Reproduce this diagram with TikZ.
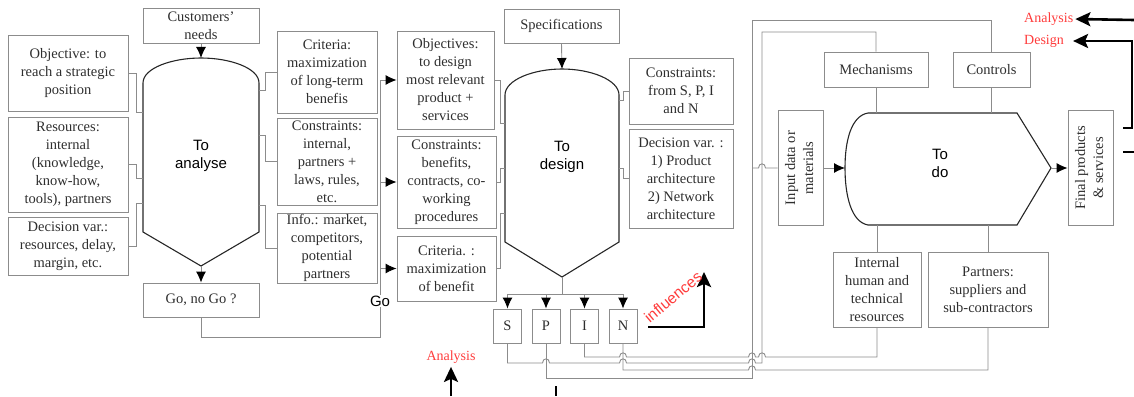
\documentclass[tikz,border=0pt]{standalone}
\usepackage{fontspec}
\setmainfont{Liberation Serif}
\setsansfont{Liberation Sans}
\usetikzlibrary{arrows.meta}

\definecolor{linegray}{HTML}{8C8C8C}
\definecolor{textgray}{HTML}{2E2E2E}
\definecolor{notered}{HTML}{FF3B3B}

\tikzstyle{box} = [draw=linegray, line width=0.9pt, text=textgray, align=center, inner sep=1pt, font=\fontsize{14.5}{18}\selectfont]
\tikzstyle{letter} = [box, minimum width=28, minimum height=34]
\tikzstyle{wire} = [draw=linegray, line width=0.9pt]
\tikzstyle{feed} = [wire, -{Latex[length=11pt, width=10pt, color=black]}]
\tikzstyle{process} = [draw=black!85, line width=1.1pt]
\tikzstyle{verb} = [font=\sffamily\fontsize{15}{18}\selectfont, align=center, text=black]
\tikzstyle{bigarrow} = [line width=2.6pt, -{Stealth[length=15pt, width=14pt, inset=3pt]}]
\tikzstyle{redword} = [text=notered, font=\fontsize{14}{16}\selectfont]
\tikzstyle{redsans} = [text=notered, font=\sffamily\fontsize{15.5}{18}\selectfont, inner sep=0pt]

\newcommand{\wirehop}[2]{-- (#1-3.5,#2) .. controls (#1-3.5,#2-5.5) and (#1+3.5,#2-5.5) .. (#1+3.5,#2)}

\begin{document}
\begin{tikzpicture}[x=1pt, y=-1pt]
      \useasboundingbox (0,0) rectangle (1134,396);

      \coordinate (anatop) at (201,58);
      \coordinate (anatip) at (201,266);
      \coordinate (anaw) at (143,0);
      \coordinate (anae) at (259,0);
      \coordinate (destop) at (562,69);
      \coordinate (destip) at (562,277);
      \coordinate (desw) at (505,0);
      \coordinate (dese) at (619,0);
      \coordinate (dotop) at (0,113);
      \coordinate (dobot) at (0,225);
      \coordinate (dow) at (845,168);
      \coordinate (dotip) at (1051,168);
      \coordinate (gocorner) at (380,337);

      \draw[process] (143,232) -- (143,83) .. controls (143,68) and (172,58) .. (201,58) .. controls (230,58) and (259,68) .. (259,83) -- (259,232) -- (201,266) -- cycle;
      \draw[process] (505,242) -- (505,95) .. controls (505,80) and (533,69) .. (562,69) .. controls (591,69) and (619,80) .. (619,95) -- (619,242) -- (562,277) -- cycle;
      \draw[process] (868,113) -- (1017,113) -- (1051,168) -- (1017,225) -- (868,225) .. controls (851,222) and (845,195) .. (845,168) .. controls (845,141) and (851,116) .. (868,113);

      \node[verb] (ana) at (201,156) {To\\analyse};
      \node[verb] (des) at (562,157) {To\\design};
      \node[verb] (todo) at (940,163) {To\\do};

      \node[box, minimum width=120, minimum height=76] (obj) at (68,73) {Objective: to\\reach a strategic\\position};
      \node[box, minimum width=120, minimum height=95] (res) at (68,164.5) {Resources:\\internal\\(knowledge,\\know-how,\\tools), partners};
      \node[box, minimum width=120, minimum height=58] (dec) at (68,246) {Decision var.:\\resources, delay,\\margin, etc.};
      \node[box, minimum width=116, minimum height=35] (needs) at (201,25.5) {Customers'\\needs};
      \node[box, minimum width=116, minimum height=34] (gonogo) at (201,300) {Go, no Go ?};

      \node[box, minimum width=100, minimum height=82] (crit) at (327,72) {Criteria:\\maximization\\of long-term\\benefis};
      \node[box, minimum width=100, minimum height=87] (cons) at (327,161.5) {Constraints:\\internal,\\partners +\\laws, rules,\\etc.};
      \node[box, minimum width=100, minimum height=70] (info) at (327,248) {Info.: market,\\competitors,\\potential\\partners};

      \node[box, minimum width=97, minimum height=98] (objs) at (445.5,80) {Objectives:\\to design\\most relevant\\product +\\services};
      \node[box, minimum width=99, minimum height=92] (cons2) at (446.5,182) {Constraints:\\benefits,\\contracts, co-\\working\\procedures};
      \node[box, minimum width=99, minimum height=65] (crit2) at (446.5,268.5) {Criteria. :\\maximization\\of benefit};

      \node[box, minimum width=115, minimum height=34] (spec) at (561.5,26) {Specifications};
      \node[box, minimum width=104, minimum height=66] (cons3) at (681,91) {Constraints:\\from S, P, I\\and N};
      \node[box, minimum width=104, minimum height=99] (dec2) at (681,178.5) {Decision var. :\\1) Product\\architecture\\2) Network\\architecture};

      \node[letter] (S) at (507.5,326) {S};
      \node[letter] (P) at (546,326) {P};
      \node[letter] (I) at (584.5,326) {I};
      \node[letter] (N) at (623,326) {N};

      \node[box, minimum width=45, minimum height=115] (input) at (800.5,168) {\rotatebox{90}{\begin{tabular}{@{}c@{}}Input data or\\materials\end{tabular}}};
      \node[box, minimum width=45, minimum height=115] (final) at (1090.5,168) {\rotatebox{90}{\begin{tabular}{@{}c@{}}Final products\\\& services\end{tabular}}};
      \node[box, minimum width=104, minimum height=35] (mech) at (876,69.5) {Mechanisms};
      \node[box, minimum width=77, minimum height=35] (ctrl) at (991.5,69.5) {Controls};
      \node[box, minimum width=88, minimum height=75] (intern) at (877,289.5) {Internal\\human and\\technical\\resources};
      \node[box, minimum width=120, minimum height=75] (partn) at (988,289.5) {Partners:\\suppliers and\\sub-contractors};

      \draw[wire] (obj.east) -- ++(8,0) |- (anaw |- 0,112);
      \draw[wire] (res.east) -- ++(8,0) |- (anaw |- 0,178);
      \draw[wire] (dec.east) -- ++(8,0) |- (anaw |- 0,203);
      \draw[wire] (crit.west) -- ++(-11,0) |- (anae |- 0,90);
      \draw[wire] (cons.west) -- ++(-11,0) |- (anae |- 0,135);
      \draw[wire] (info.west) -- ++(-11,0) |- (anae |- 0,205);
      \draw[wire] (objs.east) -- ++(6,0) |- (desw |- 0,123);
      \draw[wire] (cons2.east) -- ++(4,0) |- (desw |- 0,168);
      \draw[wire] (crit2.east) -- ++(4,0) |- (desw |- 0,213);
      \draw[wire] (cons3.west) -- ++(-5,0) |- (dese |- 0,100);
      \draw[wire] (dec2.west) -- ++(-5,0) |- (dese |- 0,168);

      \draw[feed] (needs.south) -- (anatop);
      \draw[feed] (anatip) -- (gonogo.north);
      \draw[feed] (spec.south) -- (destop);

      \draw[wire] (gonogo.south) |- (gocorner) -- (objs.west -| gocorner);
      \foreach \b in {objs,cons2,crit2}
        \draw[feed] (\b.west -| gocorner) -- (\b.west);
      \node[verb, fill=white, inner sep=1pt] (golabel) at (380,301) {Go};

      \draw[wire] (destip) -- ++(0,17) coordinate (spinbus);
      \draw[wire] (S.north |- spinbus) -- (N.north |- spinbus);
      \foreach \b in {S,P,I,N}
        \draw[feed] (\b.north |- spinbus) -- (\b.north);

      \draw[wire] (S.south) -- (S.south |- 0,363) \wirehop{546}{363} \wirehop{623}{363} \wirehop{752}{363} -- (762,363) -- (762,32) -| (mech.north);
      \draw[wire] (P.south) -- (P.south |- 0,378) -- (752,378) -- (752,20) -| (ctrl.north);
      \draw[wire] (I.south) -- (I.south |- 0,357) \wirehop{623}{357} \wirehop{752}{357} \wirehop{762}{357} -| (intern.south);
      \draw[wire] (N.south) -- (N.south |- 0,370) \wirehop{752}{370} -| (partn.south);
      \draw[wire] (752,168) \wirehop{762}{168} -- (input.west);

      \draw[feed] (input.east) -- (dow);
      \draw[feed] (dotip) -- (final.west);
      \draw[wire] (mech.south) -- (mech.south |- dotop);
      \draw[wire] (ctrl.south) -- (ctrl.south |- dotop);
      \draw[wire] (intern.north) -- (intern.north |- dobot);
      \draw[wire] (partn.north) -- (partn.north |- dobot);

      \coordinate (inflfrom) at (648,327);
      \draw[bigarrow] (inflfrom) -| (704,272);
      \node[redsans, rotate=40] (infl) at (673,297) {influences};

      \coordinate (anabotfrom) at (451,396);
      \node[redword] (anabot) at (451,357) {Analysis};
      \draw[bigarrow] (anabotfrom) -- (anabot.south);
      \draw[line width=2.6pt] (556,386) -- (556,396);

      \node[redword, anchor=west, inner sep=2pt] (anatr) at (1022,19) {Analysis};
      \node[redword, anchor=west, inner sep=2pt] (destr) at (1022,41) {Design};
      \draw[bigarrow] (1134,20) -- (anatr.east);
      \draw[bigarrow] (1123,128) -- (1132,128) -- (1132,41) -- ([xshift=7pt]destr.east);
      \draw[line width=2.6pt] (1123,152) -- (1134,152);
    \end{tikzpicture}
\end{document}
